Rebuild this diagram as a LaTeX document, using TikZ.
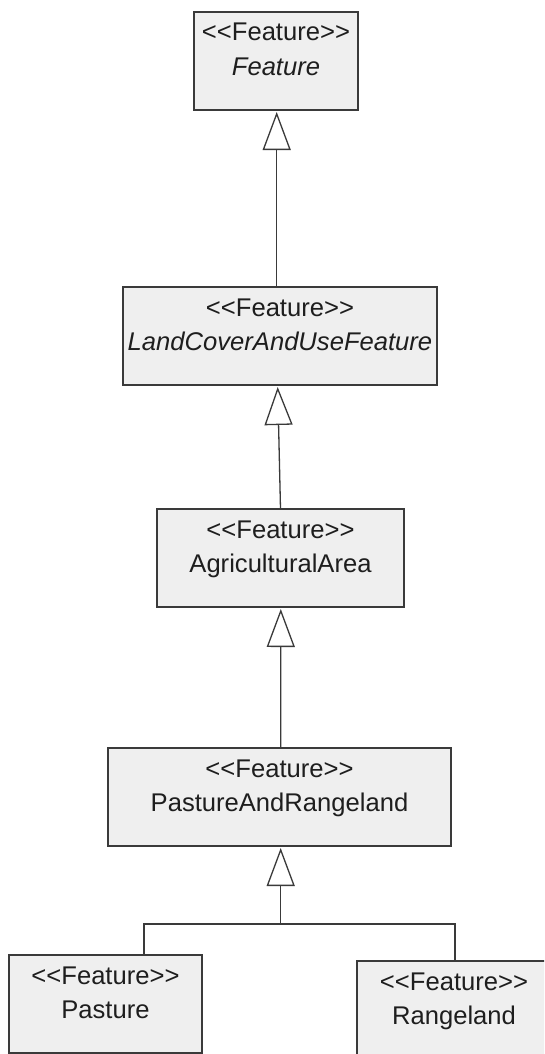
\documentclass[tikz,border=0pt]{standalone}
\usepackage{fontspec}
\newfontfamily\umlfont{Liberation Sans}[Ligatures=TeXOff]
\usetikzlibrary{arrows.meta}
\definecolor{boxfill}{HTML}{EFEFEF}
\definecolor{boxline}{HTML}{3A3A3A}
\definecolor{txt}{HTML}{1E1E1E}
\newcommand{\umltext}[2]{\rule{0pt}{29pt}<<Feature>>\\#1#2\rule[-34.5pt]{0pt}{34.5pt}}
\begin{document}
\begin{tikzpicture}[x=1pt,y=-1pt,
  umlbox/.style={draw=boxline, fill=boxfill, line width=1.3pt, rectangle, anchor=north,
    inner sep=0pt, outer sep=0pt, minimum height=98pt, align=center, text=txt,
    font=\umlfont\fontsize{25.6}{34.5}\selectfont},
  conn/.style={draw=boxline, line width=1.3pt},
  gen/.style={conn, -{Triangle[open, length=38pt, width=28pt, line join=miter, fill=white]}}]
\clip (0,0) rectangle (544,1054);
\fill[white] (0,0) rectangle (544,1054);
\node[umlbox, minimum width=164pt] (b1) at (276,12) {\umltext{\itshape}{Feature}};
\node[umlbox, minimum width=314pt] (b2) at (280,287) {\umltext{\itshape}{LandCoverAndUseFeature}};
\node[umlbox, minimum width=247pt] (b3) at (280.5,509) {\umltext{}{AgriculturalArea}};
\node[umlbox, minimum width=343pt] (b4) at (279.5,748) {\umltext{}{PastureAndRangeland}};
\node[umlbox, minimum width=193pt] (b5) at (105.5,955) {\umltext{}{Pasture}};
\node[umlbox, minimum width=194pt] (b6) at (454,961) {\umltext{}{Rangeland}};
% generalisations
\draw[gen] ([xshift=-3.3pt]b2.north) -- ([xshift=0.7pt,yshift=-2pt]b1.south);
\draw[gen] (b3.north) -- ([xshift=-2.3pt,yshift=-2pt]b2.south);
\draw[gen] ([xshift=1.2pt]b4.north) -- ([yshift=-2pt,xshift=0.3pt]b3.south);
\coordinate (j) at (280.7,924);
\draw[gen] (j) -- ([xshift=1.2pt,yshift=-2pt]b4.south);
\draw[conn] ([xshift=38.5pt]b5.north) |- (j) -| ([xshift=1pt]b6.north);
\end{tikzpicture}
\end{document}
